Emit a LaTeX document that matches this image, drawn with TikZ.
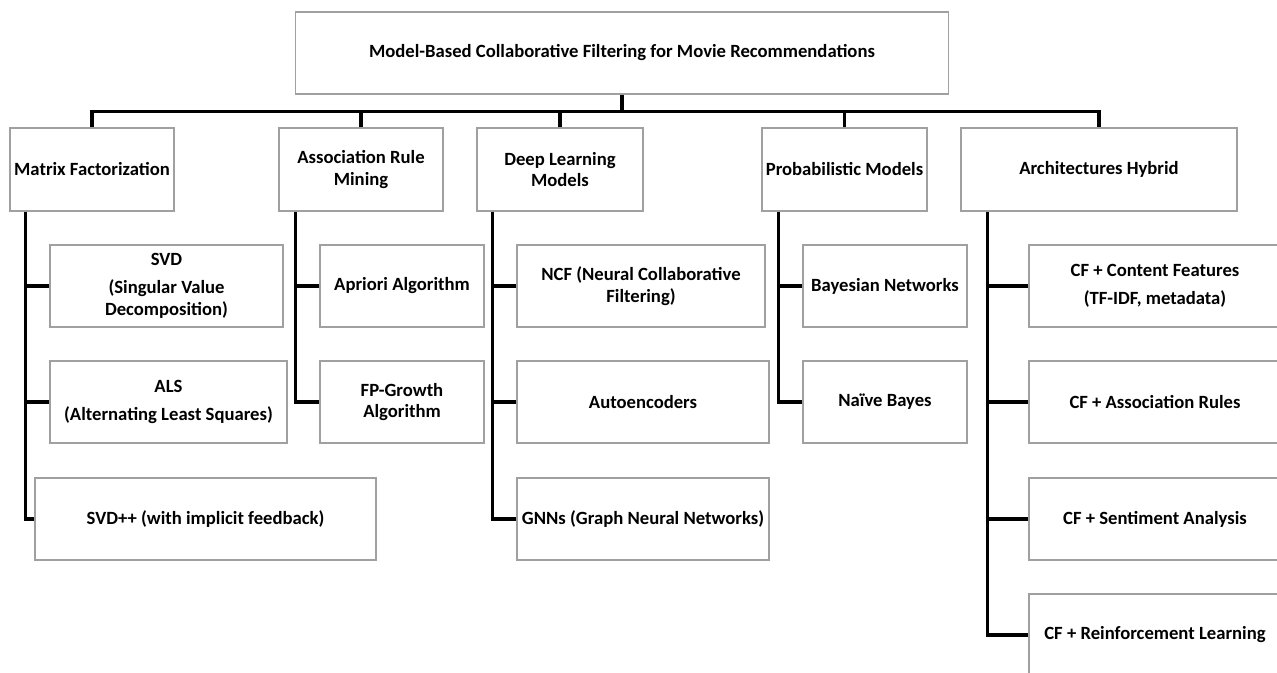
\documentclass[tikz,border=0pt]{standalone}
\usepackage{fontspec}
\setmainfont{Carlito}
\usepackage{tikz}
\definecolor{boxgray}{RGB}{160,160,160}

\begin{document}
\begin{tikzpicture}[x=0.75pt,y=0.75pt,yscale=-1,xscale=1,
  box/.style={draw=boxgray,line width=1.1pt,rectangle,align=center,inner sep=1pt,
    font=\fontsize{14}{16}\selectfont\bfseries},
  sz/.style 2 args={minimum width=#1*0.75pt,minimum height=#2*0.75pt},
  link/.style={draw=black,line width=2.3pt}]
%set diagram size 1277 x 673
\useasboundingbox (0,0) rectangle (1277,673);
\clip (0,0) rectangle (1277,673);

%Shape: Rectangle [root]
\node[box,sz={653}{82}] (root) at (622,53) {Model-Based Collaborative Filtering for Movie Recommendations};

%Shape: Rectangle [level 1]
\node[box,sz={164}{83}] (mf) at (92,169.5) {Matrix Factorization};
\node[box,sz={164}{83}] (arm) at (361,169.5) {Association Rule\\Mining};
\node[box,sz={166}{83}] (dl) at (560,169.5) {Deep Learning\\Models};
\node[box,sz={165}{83}] (pm) at (844.5,169.5) {Probabilistic Models};
\node[box,sz={276}{83}] (ah) at (1099,169.5) {Architectures Hybrid};

%Shape: Rectangle [matrix factorization]
\node[box,sz={233}{82}] (svd) at (166.5,286) {SVD\\[5pt](Singular Value\\Decomposition)};
\node[box,sz={237}{82}] (als) at (168.5,402) {ALS\\[5pt](Alternating Least Squares)};
\node[box,sz={341}{82}] (svdpp) at (205.5,519) {SVD++ (with implicit feedback)};

%Shape: Rectangle [association rules]
\node[box,sz={164}{82}] (apriori) at (402,286) {Apriori Algorithm};
\node[box,sz={164}{82}] (fpg) at (402,402) {FP-Growth\\Algorithm};

%Shape: Rectangle [deep learning]
\node[box,sz={248}{82}] (ncf) at (641,286) {NCF (Neural Collaborative\\Filtering)};
\node[box,sz={252}{82}] (autoenc) at (643,402) {Autoencoders};
\node[box,sz={252}{82},inner sep=0pt] (gnn) at (643,519) {GNNs (Graph Neural Networks)};

%Shape: Rectangle [probabilistic]
\node[box,sz={164}{82}] (bayes) at (885,286) {Bayesian Networks};
\node[box,sz={164}{82}] (naive) at (885,402) {Naïve Bayes};

%Shape: Rectangle [hybrid]
\node[box,sz={252}{82}] (cfc) at (1155,286) {CF + Content Features\\[5pt](TF-IDF, metadata)};
\node[box,sz={252}{82}] (cfa) at (1155,402) {CF + Association Rules};
\node[box,sz={252}{82}] (cfs) at (1155,519) {CF + Sentiment Analysis};
\node[box,sz={252}{82}] (cfr) at (1155,635) {CF + Reinforcement Learning};

%Straight Lines [bus]
\draw[link] (root.south) -- ++(0,17) coordinate (bus);
\draw[link] (mf.north) |- (bus) -| (ah.north);
\draw[link] (arm.north) -- (arm.north |- bus);
\draw[link] (dl.north) -- (dl.north |- bus);
\draw[link] (pm.north) -- (pm.north |- bus);

%Straight Lines [trunks]
\draw[link] (mf.south west) ++(16,0) coordinate (mft) |- (svdpp.west);
\draw[link] (svd.west) -- (svd.west -| mft);
\draw[link] (als.west) -- (als.west -| mft);

\draw[link] (arm.south west) ++(17,0) coordinate (armt) |- (fpg.west);
\draw[link] (apriori.west) -- (apriori.west -| armt);

\draw[link] (dl.south west) ++(16,0) coordinate (dlt) |- (gnn.west);
\draw[link] (ncf.west) -- (ncf.west -| dlt);
\draw[link] (autoenc.west) -- (autoenc.west -| dlt);

\draw[link] (pm.south west) ++(17,0) coordinate (pmt) |- (naive.west);
\draw[link] (bayes.west) -- (bayes.west -| pmt);

\draw[link] (ah.south west) ++(27,0) coordinate (aht) |- (cfr.west);
\draw[link] (cfc.west) -- (cfc.west -| aht);
\draw[link] (cfa.west) -- (cfa.west -| aht);
\draw[link] (cfs.west) -- (cfs.west -| aht);

\end{tikzpicture}
\end{document}
